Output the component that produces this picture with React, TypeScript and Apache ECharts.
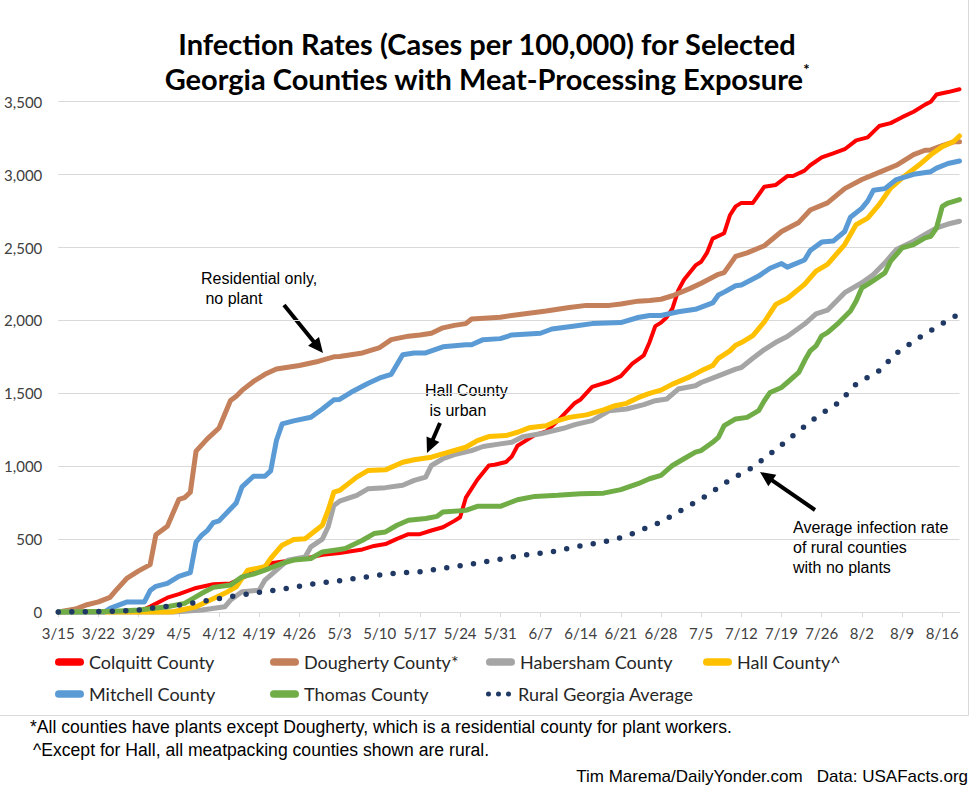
import React, { useEffect, useRef } from 'react';
import * as echarts from 'echarts';

// ---- Axis ----
const START_YEAR = 2020;
const START_MONTH = 3; // March
const START_DAY = 15;
const DAY_COUNT = 158; // 3/15 .. 8/19
const TICK_LABELS = ['3/15', '3/22', '3/29', '4/5', '4/12', '4/19', '4/26', '5/3', '5/10', '5/17', '5/24', '5/31', '6/7', '6/14', '6/21', '6/28', '7/5', '7/12', '7/19', '7/26', '8/2', '8/9', '8/16'];
const Y_MIN = 0;
const Y_MAX = 3500;
const Y_STEP = 500;

// ---- Series: [day offset from 3/15, cases per 100,000] ----
const colquitt: [number, number][] = [[0,0],[14,0],[16,37],[19,98],[21,123],[24,165],[27,190],[30,196],[32,232],[37,335],[43,367],[46,392],[49,404],[53,429],[55,453],[57,466],[59,502],[61,534],[63,534],[65,559],[67,581],[69,625],[70,650],[71,784],[73,907],[75,1005],[76,1010],[78,1029],[79,1066],[80,1140],[83,1213],[85,1238],[87,1311],[90,1434],[91,1458],[93,1544],[96,1581],[98,1618],[100,1703],[102,1760],[103,1850],[104,1961],[105,1985],[106,2022],[107,2083],[108,2206],[109,2279],[111,2377],[112,2402],[113,2463],[114,2561],[116,2598],[117,2721],[118,2782],[119,2806],[121,2806],[123,2917],[125,2929],[127,2990],[128,2990],[130,3027],[131,3064],[133,3118],[135,3145],[137,3174],[139,3235],[141,3255],[143,3333],[145,3353],[147,3394],[149,3431],[151,3480],[152,3500],[153,3549],[155,3566],[157,3585]];
const dougherty: [number, number][] = [[0,0],[3,20],[5,50],[7,69],[9,100],[10,147],[12,233],[14,282],[16,325],[17,530],[19,588],[21,772],[22,784],[23,821],[24,1103],[26,1189],[28,1262],[30,1450],[31,1480],[32,1520],[34,1581],[36,1630],[38,1667],[40,1679],[42,1691],[45,1716],[46,1728],[48,1750],[49,1752],[53,1777],[56,1814],[58,1868],[61,1892],[63,1900],[65,1912],[67,1949],[69,1966],[71,1978],[72,2010],[77,2022],[80,2039],[85,2064],[89,2088],[92,2103],[96,2103],[98,2113],[101,2132],[103,2137],[105,2145],[107,2169],[110,2218],[112,2255],[115,2316],[116,2328],[118,2439],[120,2463],[123,2512],[126,2610],[129,2672],[131,2757],[134,2806],[137,2904],[140,2966],[143,3015],[146,3064],[149,3137],[151,3167],[152,3169],[154,3199],[156,3225],[157,3225]];
const habersham: [number, number][] = [[0,0],[20,0],[25,14],[29,36],[30,82],[32,139],[35,150],[36,219],[38,287],[40,356],[43,378],[44,447],[46,500],[47,583],[48,731],[49,760],[52,800],[54,846],[57,853],[60,869],[62,903],[64,925],[65,1005],[67,1051],[69,1080],[72,1107],[74,1135],[77,1153],[79,1164],[81,1203],[84,1222],[88,1260],[90,1285],[93,1313],[96,1381],[99,1392],[102,1422],[104,1449],[106,1461],[108,1529],[111,1552],[112,1574],[115,1620],[118,1666],[119,1677],[121,1740],[123,1800],[125,1850],[127,1890],[130,1975],[132,2045],[134,2070],[137,2190],[140,2258],[142,2315],[144,2395],[146,2486],[149,2543],[151,2589],[153,2634],[155,2661],[157,2680]];
const hall: [number, number][] = [[0,0],[19,0],[20,2],[24,36],[29,128],[31,173],[33,287],[36,310],[37,367],[39,458],[41,497],[43,503],[46,595],[47,697],[48,822],[49,834],[52,925],[54,971],[57,975],[60,1027],[62,1044],[65,1062],[68,1096],[71,1130],[73,1176],[75,1203],[78,1210],[80,1233],[82,1263],[85,1278],[87,1313],[89,1335],[92,1352],[95,1386],[97,1415],[99,1431],[101,1470],[103,1500],[105,1522],[107,1563],[110,1613],[112,1654],[114,1690],[115,1740],[117,1791],[118,1830],[119,1848],[121,1895],[123,1990],[124,2050],[125,2110],[127,2150],[130,2247],[132,2338],[134,2384],[137,2520],[139,2657],[141,2702],[143,2794],[145,2907],[147,2976],[150,3067],[152,3136],[154,3192],[156,3227],[157,3265]];
const mitchell: [number, number][] = [[0,0],[8,0],[9,25],[12,69],[15,69],[16,147],[17,176],[19,196],[21,245],[23,270],[24,480],[25,527],[26,560],[27,613],[28,625],[31,748],[32,858],[34,931],[36,931],[37,968],[38,1176],[39,1290],[41,1311],[44,1336],[46,1392],[48,1455],[49,1458],[51,1507],[54,1569],[56,1605],[58,1630],[60,1765],[62,1777],[64,1777],[67,1819],[71,1833],[72,1833],[74,1868],[77,1875],[79,1900],[84,1912],[86,1941],[90,1961],[93,1978],[98,1985],[101,2020],[103,2034],[105,2034],[108,2059],[111,2076],[114,2120],[115,2174],[116,2194],[118,2238],[119,2243],[122,2304],[124,2358],[126,2390],[127,2365],[130,2414],[131,2480],[133,2537],[135,2544],[137,2610],[138,2708],[140,2770],[141,2818],[142,2892],[144,2904],[146,2966],[149,3002],[152,3020],[153,3044],[155,3076],[157,3093]];
const thomas: [number, number][] = [[0,0],[10,5],[14,14],[19,36],[22,59],[25,128],[27,169],[30,185],[32,241],[34,260],[36,287],[39,333],[41,356],[44,367],[46,412],[49,429],[50,435],[53,492],[55,538],[57,549],[59,595],[61,629],[64,641],[66,656],[67,686],[71,697],[73,725],[77,725],[80,770],[83,793],[87,800],[91,811],[95,815],[98,839],[101,880],[103,914],[105,937],[107,1005],[109,1051],[111,1096],[112,1107],[114,1164],[115,1198],[116,1278],[118,1324],[120,1335],[122,1381],[123,1449],[124,1506],[126,1540],[127,1574],[129,1643],[130,1723],[131,1791],[132,1825],[133,1894],[134,1916],[136,1985],[138,2065],[139,2133],[140,2224],[141,2247],[144,2326],[145,2406],[147,2497],[149,2520],[151,2566],[152,2577],[153,2634],[154,2782],[155,2805],[157,2828]];
const ruralAverage: [number, number][] = [[0,0],[10,5],[14,14],[17,30],[21,48],[26,78],[30,105],[35,135],[40,162],[44,191],[49,214],[53,237],[58,264],[63,276],[67,299],[72,328],[76,356],[81,390],[86,412],[90,446],[95,481],[99,520],[101,555],[103,585],[105,617],[109,709],[113,800],[117,907],[121,993],[125,1114],[128,1210],[132,1335],[136,1438],[139,1563],[143,1654],[146,1775],[150,1882],[154,1978],[157,2045]];

const SERIES_NAMES = ['Colquitt County', 'Dougherty County*', 'Habersham County', 'Hall County^', 'Mitchell County', 'Thomas County', 'Rural Georgia Average'];
const SERIES_DATA = [colquitt, dougherty, habersham, hall, mitchell, thomas, ruralAverage];
const SERIES_COLORS = ['#FF0000', '#C4805A', '#A5A5A5', '#FFC000', '#5B9BD5', '#70AD47', '#1F3864'];

const categories: string[] = Array.from({ length: DAY_COUNT }, (_, i) => {
  const d = new Date(START_YEAR, START_MONTH - 1, START_DAY + i);
  return `${d.getMonth() + 1}/${d.getDate()}`;
});

const LINE_ICON = 'path://M4,0L26,0A4,4,0,0,1,26,8L4,8A4,4,0,0,1,4,0Z';
const DOT_ICON = 'path://M0,3A3,3,0,1,0,6,3A3,3,0,1,0,0,3ZM12,3A3,3,0,1,0,18,3A3,3,0,1,0,12,3ZM24,3A3,3,0,1,0,30,3A3,3,0,1,0,24,3Z';

function arrow(x1: number, y1: number, x2: number, y2: number) {
  const dx = x2 - x1, dy = y2 - y1;
  const len = Math.hypot(dx, dy);
  const ux = dx / len, uy = dy / len;
  const headLen = 15, headHalf = 7;
  const bx = x2 - ux * headLen, by = y2 - uy * headLen;
  return [
    { type: 'line', silent: true, shape: { x1, y1, x2: bx + ux * 2, y2: by + uy * 2 }, style: { stroke: '#000', lineWidth: 4 } },
    { type: 'polygon', silent: true, shape: { points: [[x2, y2], [bx - uy * headHalf, by + ux * headHalf], [bx + uy * headHalf, by - ux * headHalf]] }, style: { fill: '#000' } },
  ];
}

function note(x: number, y: number, text: string) {
  return {
    type: 'text', x, y, silent: true,
    style: { text, fontFamily: '"Liberation Sans", Arial, sans-serif', fontSize: 16, fill: '#000', align: 'left', verticalAlign: 'top', lineHeight: 20 },
  };
}

function footer(x: number, y: number, text: string, align: string, size: number) {
  return {
    type: 'text', x, y, silent: true,
    style: { text, fontFamily: '"Liberation Sans Narrow", "Arial Narrow", "Liberation Sans", sans-serif', fontSize: size, fill: '#000', align, verticalAlign: 'middle' },
  };
}

const LEGEND_SLOTS: [number, number][] = [[55, 664], [270, 664], [486, 664], [703, 664], [55, 696], [270, 696], [486, 696]];

export default function App() {
  const ref = useRef<HTMLDivElement>(null);
  useEffect(() => {
    if (!ref.current) return;
    const chart = echarts.init(ref.current, undefined, { renderer: 'svg' });
    const series = SERIES_NAMES.map((name, i) => {
      const dotted = i === 6;
      return {
        name,
        type: 'line',
        data: SERIES_DATA[i].map(([d, v]) => [categories[d], v]),
        showSymbol: false,
        symbol: 'none',
        clip: false,
        color: SERIES_COLORS[i],
        itemStyle: { color: SERIES_COLORS[i] },
        lineStyle: dotted
          ? { color: SERIES_COLORS[i], width: 5.5, type: [0, 13.5], cap: 'round' }
          : { color: SERIES_COLORS[i], width: i === 0 ? 4 : 5, cap: 'round', join: 'round' },
        z: 2 + i,
        silent: true,
      };
    });
    const legends = SERIES_NAMES.map((name, i) => ({
      data: [{ name, icon: i === 6 ? DOT_ICON : LINE_ICON }],
      left: LEGEND_SLOTS[i][0],
      top: LEGEND_SLOTS[i][1] - 11,
      padding: 0,
      itemWidth: 29,
      itemHeight: i === 6 ? 5 : 8,
      selectedMode: false,
      itemStyle: { borderWidth: 0 },
      textStyle: { fontFamily: 'Lato, sans-serif', fontSize: 18, color: '#262626' },
    }));
    const option = {
      animation: false,
      backgroundColor: '#fff',
      title: {
        text: 'Infection Rates (Cases per 100,000) for Selected\nGeorgia Counties with Meat-Processing Exposure{sup|*}',
        left: 'center',
        top: 21,
        textStyle: {
          fontFamily: 'Lato, sans-serif', fontWeight: 'bold', fontSize: 29, color: '#000', lineHeight: 35,
          rich: { sup: { fontFamily: 'Lato, sans-serif', fontWeight: 'bold', fontSize: 15, color: '#000', verticalAlign: 'top', lineHeight: 22 } },
        },
      },
      legend: legends,
      grid: { left: 58.3, right: 14.5, top: 101.7, bottom: 177, containLabel: false },
      xAxis: {
        type: 'category',
        data: categories,
        boundaryGap: false,
        axisLine: { lineStyle: { color: '#D9D9D9', width: 1 } },
        axisTick: { show: true, interval: (idx: number) => idx % 7 === 0, length: 5, lineStyle: { color: '#D9D9D9' } },
        axisLabel: {
          interval: (idx: number) => idx % 7 === 0,
          formatter: (v: string) => (TICK_LABELS.includes(v) ? v : ''),
          fontFamily: 'Lato, sans-serif', fontSize: 15, color: '#404040', margin: 13,
        },
        splitLine: { show: false },
      },
      yAxis: {
        type: 'value',
        min: Y_MIN,
        max: Y_MAX,
        interval: Y_STEP,
        axisLine: { show: false },
        axisTick: { show: false },
        axisLabel: {
          formatter: (v: number) => v.toLocaleString('en-US'),
          fontFamily: 'Lato, sans-serif', fontSize: 15, color: '#404040', margin: 16,
        },
        splitLine: { lineStyle: { color: '#D9D9D9', width: 1 } },
      },
      series,
      graphic: [
        { type: 'line', silent: true, shape: { x1: 968.5, y1: 0, x2: 968.5, y2: 715.5 }, style: { stroke: '#D9D9D9', lineWidth: 1 } },
        { type: 'line', silent: true, shape: { x1: 0, y1: 715.5, x2: 968.5, y2: 715.5 }, style: { stroke: '#D9D9D9', lineWidth: 1 } },
        note(201, 268, 'Residential only,\n no plant'),
        note(425, 380, 'Hall County\n is urban'),
        note(793, 517, 'Average infection rate\nof rural counties\nwith no plants'),
        ...arrow(284, 305, 323, 353),
        ...arrow(440, 423, 427, 453),
        ...arrow(815, 510, 760, 472),
        footer(30, 727, '*All counties have plants except Dougherty, which is a residential county for plant workers.', 'left', 17.6),
        footer(33, 750, '^Except for Hall, all meatpacking counties shown are rural.', 'left', 17.6),
        footer(968, 776, 'Tim Marema/DailyYonder.com   Data: USAFacts.org', 'right', 17),
      ],
    };
    chart.setOption(option as any);
    return () => chart.dispose();
  }, []);
  return <div ref={ref} style={{ position: 'absolute', left: 0, top: 0, width: 974, height: 789 }} />;
}
